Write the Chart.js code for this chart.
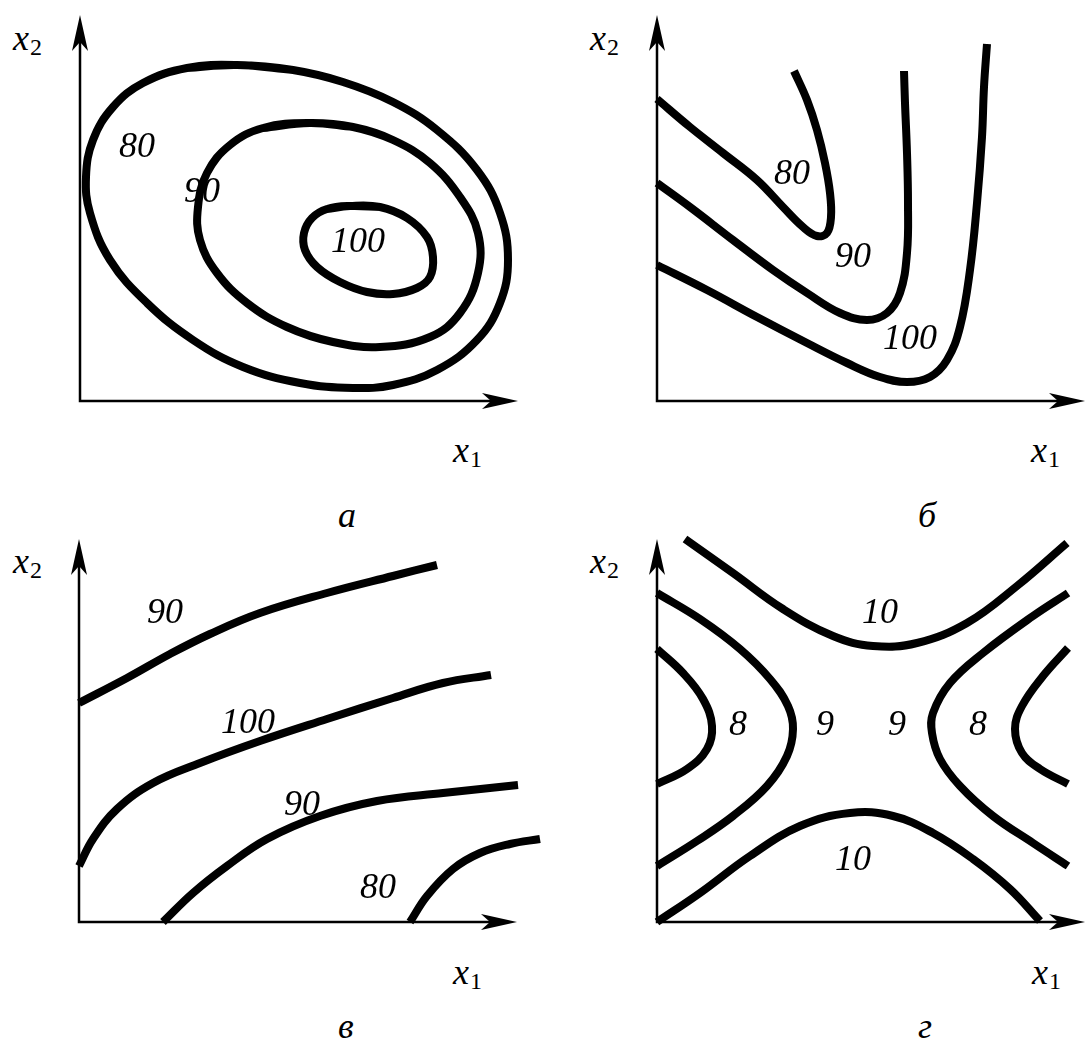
<!DOCTYPE html>
<html>
<head>
    <title>Contour lines</title>
    <script src="https://cdn.jsdelivr.net/npm/chart.js"></script>
    <style>
        body { margin: 0; background: #fff; width: 1086px; height: 1040px; position: relative; overflow: hidden; }
        canvas { position: absolute; }
        .lab { position: absolute; font-style: italic; font-size: 36px; font-family: 'Liberation Serif', 'Tinos', 'Times New Roman', Times, 'Noto Serif', 'DejaVu Serif', serif; line-height: 36px; color: #000; white-space: nowrap; }
        .lab .s { font-style: normal; font-size: 24px; position: relative; top: 5px; margin-left: 1px; }
    </style>
</head>
<body>
    <!-- axis names and panel letters -->
    <div class="lab" style="left:13px; top:20px;">x<span class="s">2</span></div>
    <div class="lab" style="left:453px; top:432px;">x<span class="s">1</span></div>
    <div class="lab" style="left:338px; top:497px;">а</div>

    <div class="lab" style="left:590px; top:20px;">x<span class="s">2</span></div>
    <div class="lab" style="left:1031px; top:432px;">x<span class="s">1</span></div>
    <div class="lab" style="left:918px; top:497px;">б</div>

    <div class="lab" style="left:13px; top:543px;">x<span class="s">2</span></div>
    <div class="lab" style="left:453px; top:954px;">x<span class="s">1</span></div>
    <div class="lab" style="left:338px; top:1008px;">в</div>

    <div class="lab" style="left:590px; top:543px;">x<span class="s">2</span></div>
    <div class="lab" style="left:1032px; top:954px;">x<span class="s">1</span></div>
    <div class="lab" style="left:918px; top:1008px;">г</div>

    <canvas id="pa" width="480" height="410" style="left:60px; top:6px;"></canvas>
    <canvas id="pb" width="449" height="410" style="left:637px; top:6px;"></canvas>
    <canvas id="pc" width="490" height="407" style="left:59px; top:530px;"></canvas>
    <canvas id="pd" width="449" height="407" style="left:637px; top:530px;"></canvas>

    <script>
        // ===== DATA (x1, x2 in axis units, origin at 0,0) =====
        // panel а : closed ellipses
        const a80 = [[157,336],[213,331],[263,319],[313,299],[357,271],[397,231],[420,188],[428,141],[420,98],[397,61],[357,31],[313,16],[273,13],[220,18],[163,34],[113,61],[67,98],[30,141],[10,188],[6,224],[13,261],[33,294],[63,318],[107,333]];
        const a90 = [[230,278],[273,274],[313,261],[350,238],[380,204],[398,168],[398,128],[380,88],[350,64],[300,54],[253,59],[207,74],[167,98],[137,128],[120,161],[118,194],[127,228],[150,256],[183,273]];
        const a100 = [[270,195],[300,194],[327,183],[347,164],[353,144],[350,124],[337,113],[313,107],[287,109],[260,119],[237,134],[225,151],[224,168],[232,183],[247,192]];
        const aLabels = ['80', '90', '100'];
        const aLabelXY = [[57,253],[122,208],[278,158]];
        const aAxes = [438, 386];

        // panel б
        const b80 = [[0,302],[33,274],[66,248],[100,221],[126,194],[146,174],[160,165],[170,168],[174,184],[173,208],[168,238],[160,271],[150,301],[137,330]];
        const b90 = [[0,218],[33,194],[76,161],[116,131],[150,108],[183,88],[210,81],[230,88],[243,108],[250,148],[251,198],[250,248],[248,298],[247,330]];
        const b100 = [[0,136],[50,111],[100,84],[150,58],[190,38],[223,24],[250,19],[273,24],[290,41],[303,74],[313,131],[320,198],[325,264],[327,314],[330,357]];
        const bLabels = ['80', '90', '100'];
        const bLabelXY = [[135,226],[196,143],[253,61]];
        const bAxes = [428, 386];

        // panel в
        const c90top = [[0,219],[48,244],[91,268],[131,288],[181,309],[248,329],[314,346],[358,357]];
        const c100 = [[0,56],[14,83],[38,113],[74,139],[121,159],[181,181],[248,203],[314,224],[364,239],[412,247]];
        const c90low = [[84,0],[114,29],[148,56],[188,83],[241,106],[298,121],[364,129],[439,137]];
        const c80 = [[331,0],[348,26],[374,53],[401,69],[431,78],[461,83]];
        const cLabels = ['90', '100', '90', '80'];
        const cLabelXY = [[86,308],[169,198],[223,116],[299,33]];
        const cAxes = [438, 383];

        // panel г : saddle
        const d10top = [[28,383],[76,349],[126,313],[176,286],[216,276],[260,279],[310,299],[360,336],[410,379]];
        const d9left = [[0,329],[43,303],[83,273],[113,243],[131,216],[136,193],[130,166],[110,136],[76,106],[40,81],[0,56]];
        const d8left = [[0,273],[26,249],[46,223],[55,196],[50,173],[30,153],[0,138]];
        const d9right = [[411,329],[376,306],[326,269],[293,239],[276,209],[275,189],[283,163],[303,136],[336,106],[376,79],[411,56]];
        const d8right = [[411,274],[386,246],[365,216],[358,193],[365,169],[383,153],[411,138]];
        const d10low = [[0,0],[43,29],[93,66],[143,96],[193,109],[236,106],[276,89],[316,63],[353,33],[383,1]];
        const dLabels = ['10', '8', '9', '9', '8', '10'];
        const dLabelXY = [[223,308],[81,196],[168,196],[240,196],[321,196],[196,61]];
        const dAxes = [428, 383];

        // ===== HELPERS =====
        const toXY = pts => pts.map(p => ({ x: p[0], y: p[1] }));
        // repeat points around the seam so the closed curve stays smooth
        const loop = pts => [pts[pts.length - 1], ...pts, pts[0], pts[1]];
        const serif = "'Liberation Serif', 'Tinos', 'Times New Roman', Times, 'Noto Serif', 'DejaVu Serif', serif";

        const arrowPlugin = {
            id: 'axesAndLabels',
            afterDatasetsDraw(chart, args, opts) {
                const ctx = chart.ctx, sx = chart.scales.x, sy = chart.scales.y;
                const ox = sx.getPixelForValue(0), oy = sy.getPixelForValue(0);
                const tx = sx.getPixelForValue(opts.axes[0]), ty = sy.getPixelForValue(opts.axes[1]);
                ctx.save();
                ctx.strokeStyle = '#000'; ctx.fillStyle = '#000'; ctx.lineWidth = 2.5;
                ctx.beginPath();
                ctx.moveTo(ox, ty + 20); ctx.lineTo(ox, oy); ctx.lineTo(tx - 20, oy);
                ctx.stroke();
                // arrow heads
                ctx.beginPath();
                ctx.moveTo(ox, ty); ctx.lineTo(ox - 8, ty + 36); ctx.lineTo(ox, ty + 27); ctx.lineTo(ox + 8, ty + 36); ctx.closePath();
                ctx.fill();
                ctx.beginPath();
                ctx.moveTo(tx, oy); ctx.lineTo(tx - 36, oy - 8); ctx.lineTo(tx - 27, oy); ctx.lineTo(tx - 36, oy + 8); ctx.closePath();
                ctx.fill();
                // contour values
                ctx.font = 'italic 36px ' + serif;
                ctx.textAlign = 'center'; ctx.textBaseline = 'middle';
                opts.labels.forEach((t, i) => {
                    ctx.fillText(t, sx.getPixelForValue(opts.pos[i][0]), sy.getPixelForValue(opts.pos[i][1]));
                });
                ctx.restore();
            }
        };

        function makePanel(id, curves, xr, yr, axes, labels, pos) {
            new Chart(document.getElementById(id), {
                type: 'scatter',
                data: {
                    datasets: curves.map(c => ({
                        data: toXY(c),
                        showLine: true,
                        borderColor: '#000',
                        borderWidth: 8,
                        borderCapStyle: 'butt',
                        borderJoinStyle: 'round',
                        tension: 0.4,
                        pointRadius: 0,
                        clip: false
                    }))
                },
                options: {
                    responsive: false,
                    animation: false,
                    events: [],
                    layout: { padding: 0 },
                    plugins: {
                        legend: { display: false },
                        tooltip: { enabled: false },
                        axesAndLabels: { axes: axes, labels: labels, pos: pos }
                    },
                    scales: {
                        x: { type: 'linear', display: false, min: xr[0], max: xr[1] },
                        y: { type: 'linear', display: false, min: yr[0], max: yr[1] }
                    }
                },
                plugins: [arrowPlugin]
            });
        }

        makePanel('pa', [loop(a80), loop(a90), loop(a100)], [-20, 460], [-15, 395], aAxes, aLabels, aLabelXY);
        makePanel('pb', [b80, b90, b100], [-20, 429], [-15, 395], bAxes, bLabels, bLabelXY);
        makePanel('pc', [c90top, c100, c90low, c80], [-20, 470], [-15, 392], cAxes, cLabels, cLabelXY);
        makePanel('pd', [d10top, d9left, d8left, d9right, d8right, d10low], [-20, 429], [-15, 392], dAxes, dLabels, dLabelXY);
    </script>
</body>
</html>
